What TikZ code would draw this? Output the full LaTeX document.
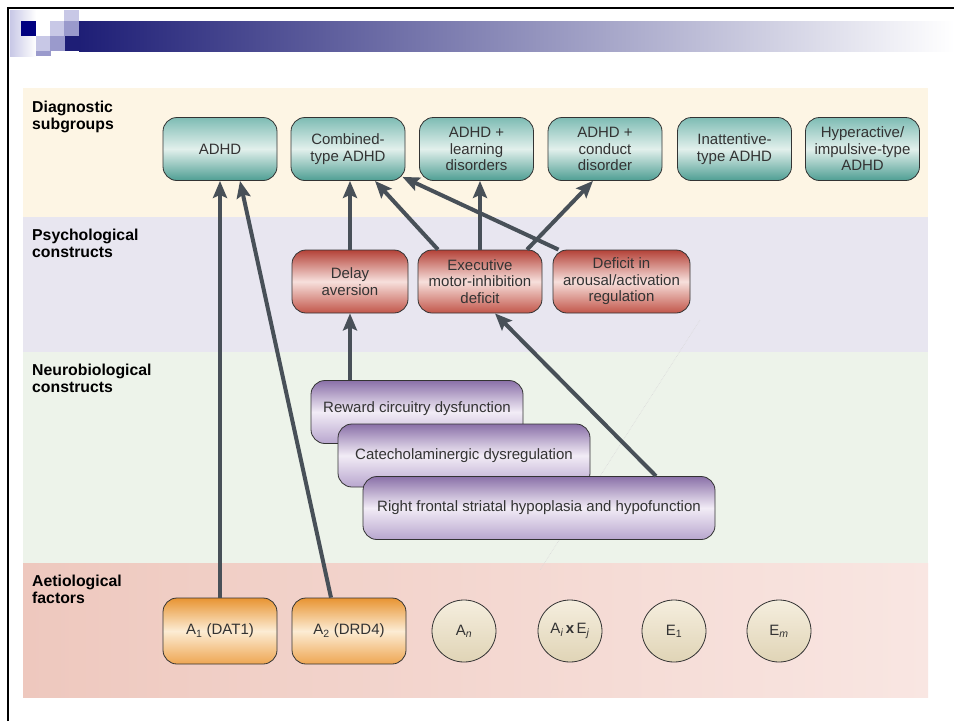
\documentclass[tikz,border=0pt]{standalone}
\usepackage{fontspec}
\setmainfont{Liberation Sans}
\usetikzlibrary{shapes.geometric, arrows.meta}

\definecolor{navy}{RGB}{0,0,128}
\definecolor{barnavy}{RGB}{30,30,118}
\definecolor{sqlight}{RGB}{200,200,230}
\definecolor{sqmid}{RGB}{154,154,204}
\definecolor{diagband}{RGB}{253,245,228}
\definecolor{psyband}{RGB}{232,230,240}
\definecolor{neuroband}{RGB}{237,243,234}
\definecolor{aetioleft}{RGB}{238,200,190}
\definecolor{aetioright}{RGB}{249,230,226}
\definecolor{tealtop}{RGB}{126,188,180}
\definecolor{tealmid}{RGB}{226,240,236}
\definecolor{tealbot}{RGB}{78,158,147}
\definecolor{redtop}{RGB}{180,66,56}
\definecolor{redmid}{RGB}{247,224,220}
\definecolor{redbot}{RGB}{194,86,74}
\definecolor{purptop}{RGB}{138,112,168}
\definecolor{purpmid}{RGB}{242,236,246}
\definecolor{purpbot}{RGB}{184,166,206}
\definecolor{orangetop}{RGB}{232,148,50}
\definecolor{orangemid}{RGB}{252,236,212}
\definecolor{orangebot}{RGB}{238,166,82}
\definecolor{beigetop}{RGB}{245,238,222}
\definecolor{beigebot}{RGB}{224,212,182}
\definecolor{arrowgrey}{RGB}{72,80,88}

\begin{document}
\begin{tikzpicture}[x=1pt, y=-1pt,
  boxtext/.style={font=\fontsize{15}{16.5}\selectfont, text=black!80, align=center},
  grp/.style={boxtext, draw=black!80, line width=0.8pt, rounded corners=14pt, inner sep=2pt},
  diagbox/.style={grp, minimum width=114pt, minimum height=63pt,
    top color=tealtop, bottom color=tealbot, middle color=tealmid},
  psybox/.style={grp, minimum height=63pt,
    top color=redtop, bottom color=redbot, middle color=redmid},
  neurobox/.style={grp, minimum height=63pt,
    top color=purptop, bottom color=purpbot, middle color=purpmid},
  genebox/.style={grp, minimum width=114pt, minimum height=66pt,
    top color=orangetop, bottom color=orangebot, middle color=orangemid},
  factor/.style={boxtext, ellipse, draw=black!80, line width=0.8pt, inner sep=0pt,
    minimum width=64pt, minimum height=62pt, top color=beigetop, bottom color=beigebot},
  bandlabel/.style={font=\fontsize{15.8}{16.5}\selectfont\bfseries, align=left,
    anchor=north west, inner sep=0pt},
  link/.style={line width=4pt, draw=arrowgrey,
    -{Stealth[length=17pt, width=14pt, inset=3pt]}}
]
\useasboundingbox (0,0) rectangle (954,721);
\fill[white] (0,0) rectangle (954,721);

% slide header
\shade[left color=sqlight, right color=white] (10,10) rectangle (36,56);
\fill[navy] (21,21) rectangle (36,36);
\fill[sqlight] (50,21) rectangle (65,36);
\fill[sqlight] (64,10) rectangle (79,21);
\fill[sqmid] (64,21) rectangle (79,36);
\fill[sqlight] (36,36) rectangle (50,51);
\fill[sqmid] (50,36) rectangle (65,51);
\fill[sqmid] (36,51) rectangle (51,56);
\fill[barnavy] (65,36) rectangle (79,51);
\shade[left color=barnavy, right color=white] (79,21) rectangle (954,51);
\draw[line width=2pt] (8,721) -- (8,8) -- (954,8);

% bands
\fill[diagband] (23,88) rectangle (928,217);
\fill[psyband] (23,217) rectangle (928,352);
\fill[neuroband] (23,352) rectangle (928,563);
\shade[left color=aetioleft, right color=aetioright] (23,563) rectangle (928,697);
\draw[black!15, densely dotted, line width=0.6pt] (700,320) -- (540,570);

\node[bandlabel] (lbldiag) at (32,101) {Diagnostic\\subgroups};
\node[bandlabel] (lblpsy) at (32,229) {Psychological\\constructs};
\node[bandlabel] (lblneuro) at (32,364) {Neurobiological\\constructs};
\node[bandlabel] (lblaetio) at (32,575) {Aetiological\\factors};

% diagnostic subgroups
\node[diagbox] (adhd) at (220,149) {ADHD};
\node[diagbox] (comb) at (348,149) {Combined-\\type ADHD};
\node[diagbox] (learn) at (476.5,149) {ADHD +\\learning\\disorders};
\node[diagbox] (cond) at (605,149) {ADHD +\\conduct\\disorder};
\node[diagbox] (inatt) at (734.5,149) {Inattentive-\\type ADHD};
\node[diagbox] (hyper) at (862.5,149) {Hyperactive/\\impulsive-type\\ADHD};

% psychological constructs
\node[psybox, minimum width=116pt] (delay) at (350,281.5) {Delay\\aversion};
\node[psybox, minimum width=124pt] (exec) at (480,281.5) {Executive\\motor-inhibition\\deficit};
\node[psybox, minimum width=137pt] (arousal) at (621.5,281.5) {Deficit in\\arousal/activation\\regulation};

% neurobiological constructs
\node[neurobox, minimum width=212pt] (reward) at (417,412) {Reward circuitry dysfunction\\[-6pt]};
\node[neurobox, minimum width=252pt] (catech) at (464,455.5) {Catecholaminergic dysregulation};
\node[neurobox, minimum width=352pt] (frontal) at (539,508) {Right frontal striatal hypoplasia and hypofunction};

% aetiological factors
\node[genebox] (aone) at (220,631) {A\textsubscript{1} (DAT1)};
\node[genebox] (atwo) at (349,631) {A\textsubscript{2} (DRD4)};
\node[factor] (an) at (464,631) {A\textsubscript{\itshape n}};
\node[factor] (axe) at (570,631) {A\textsubscript{\itshape i}\,\textbf{x}\,E\textsubscript{\itshape j}};
\node[factor] (eone) at (674,631) {E\textsubscript{1}};
\node[factor] (em) at (779,631) {E\textsubscript{\itshape m}};

% links
\draw[link] (aone.north) -- (adhd.south);
\draw[link] ([xshift=-18pt]atwo.north) -- ([xshift=20pt]adhd.south);
\draw[link] (delay.north) -- (delay.north |- comb.south);
\draw[link] (reward.north -| delay.south) -- (delay.south);
\draw[link] ([xshift=-42pt]exec.north) -- ([xshift=27pt]comb.south);
\draw[link] (exec.north) -- (exec.north |- learn.south);
\draw[link] ([xshift=47pt]exec.north) -- ([xshift=-12pt]cond.south);
\draw[link] ([xshift=-63pt]arousal.north) -- ([xshift=-3pt,yshift=4pt]comb.south east);
\draw[link] ([xshift=117pt]frontal.north) -- ([xshift=15pt]exec.south);
\end{tikzpicture}
\end{document}
